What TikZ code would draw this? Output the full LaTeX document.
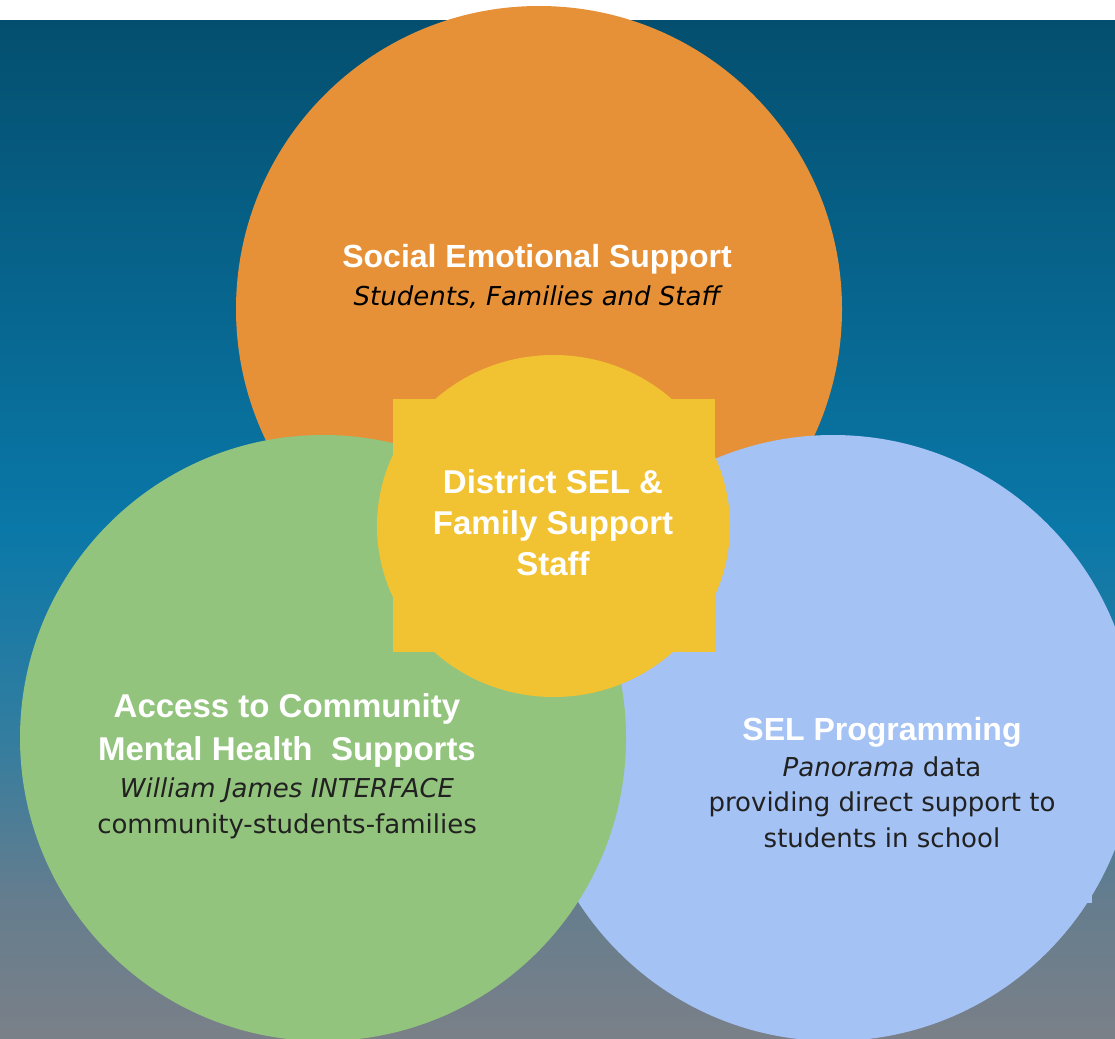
\documentclass[tikz,border=0pt]{standalone}
\usepackage{fontspec}
\setmainfont{DejaVu Sans}
\newfontfamily\headfont{Liberation Sans}
\usetikzlibrary{positioning}
\definecolor{social}{RGB}{230,145,56}
\definecolor{prog}{RGB}{164,194,244}
\definecolor{access}{RGB}{147,196,125}
\definecolor{hub}{RGB}{241,194,50}
\definecolor{bgA}{RGB}{4,79,111}
\definecolor{bgB}{RGB}{10,120,168}
\definecolor{bgC}{RGB}{50,125,160}
\definecolor{bgD}{RGB}{100,125,142}
\definecolor{bgE}{RGB}{122,128,136}
\pgfdeclareverticalshading{skyfade}{100bp}{color(0bp)=(bgE); color(25bp)=(bgE);
  color(32bp)=(bgD); color(40bp)=(bgC); color(50bp)=(bgB);
  color(75bp)=(bgA); color(100bp)=(bgA)}
\tikzstyle{bubble} = [circle, minimum size=606pt, inner sep=0pt, outer sep=0pt]
\tikzstyle{head} = [text=white, align=center, anchor=base, inner sep=0pt,
  font=\headfont\bfseries\fontsize{32}{41}\selectfont]
\tikzstyle{body} = [text=black!87, align=center, anchor=base, inner sep=0pt,
  font=\fontsize{26}{35.5}\selectfont]

\begin{document}
\begin{tikzpicture}[x=1pt, y=-1pt]
    \useasboundingbox (0,0) rectangle (1115,1038);
    \fill[white] (0,0) rectangle (1115,1038);
    \shade[shading=skyfade] (0,21) rectangle (1115,1038);

    % the three circles, then the hub on top
    \node[bubble, fill=social] (socialc) at (539,309) {};
    \node[bubble, fill=prog] (progc) at (833,738) {};
    \fill[prog] (1080,880) rectangle (1092,903);
    \node[bubble, fill=access] (accessc) at (323,738) {};
    \fill[hub] (553.5,526) ellipse [x radius=176.5pt, y radius=171pt];
    \fill[hub] (393,399) rectangle (715,652);

    % base of a multi-line node = last line
    \node[head] (socialh) at (537,267) {Social Emotional Support};
    \node[body, font=\fontsize{26}{35.5}\selectfont\itshape, text=black]
    (sociala) at ([yshift=-38pt]socialh.base) {Students, Families and Staff};

    \node[head, font=\headfont\bfseries\fontsize{33}{41}\selectfont] (hubh)
    at (553,575) {District SEL \&\\Family Support\\Staff};

    \node[head, font=\headfont\bfseries\fontsize{33}{43}\selectfont] (accessh)
    at (287,760) {Access to Community\\Mental Health\ \ Supports};
    \node[body] (accessa) at ([yshift=-73pt]accessh.base)
    {\textit{William James INTERFACE}\\community-students-families};

    \node[head] (progh) at (882,740) {SEL Programming};
    \node[body] (proga) at ([yshift=-107pt]progh.base)
    {\textit{Panorama} data\\providing direct support to\\students in school};

  \end{tikzpicture}
\end{document}
